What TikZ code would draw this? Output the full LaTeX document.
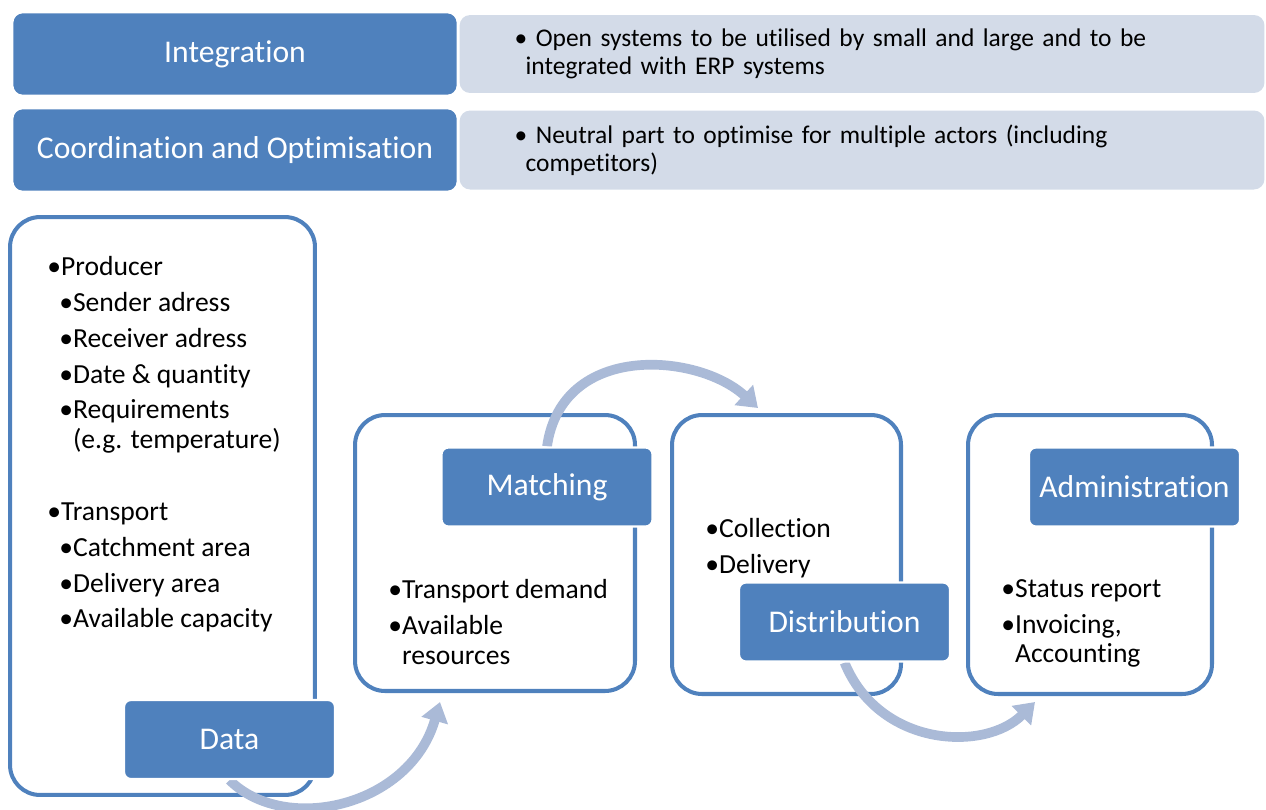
\documentclass[tikz,border=0pt]{standalone}
\usepackage{fontspec}
\setmainfont[Ligatures=NoCommon]{Carlito}
\usetikzlibrary{shapes,arrows.meta,positioning,calc}

\definecolor{accent}{RGB}{79,129,189}
\definecolor{accentpale}{RGB}{211,219,232}
\definecolor{flowblue}{RGB}{170,186,215}

\tikzstyle{head} = [rectangle, draw=white, line width=1.5pt, fill=accent,
  text=white, rounded corners=6pt, minimum width=8.92cm, minimum height=1.68cm,
  font=\fontsize{18}{21}\selectfont]
\tikzstyle{note} = [rectangle, fill=accentpale, rounded corners=6pt,
  minimum height=1.56cm, text width=13.9cm, inner xsep=1.1cm, align=left,
  font=\fontsize{14.5}{15.9}\selectfont]
\tikzstyle{stage} = [rectangle, draw=accent, line width=2.3pt, rounded corners=0.6cm]
\tikzstyle{block} = [rectangle, draw=white, line width=1.2pt, fill=accent,
  text=white, rounded corners=4pt, minimum width=4.22cm, minimum height=1.58cm,
  font=\fontsize{18}{21}\selectfont]
\tikzstyle{items} = [inner sep=0pt, align=left, anchor=north west,
  font=\fontsize{15.7}{17}\selectfont]
\tikzstyle{flow} = [draw=flowblue, line width=5.5pt,
  -{Triangle[width=15pt,length=11pt]}]

\pgfdeclarelayer{back}
\pgfdeclarelayer{arcs}
\pgfsetlayers{back,arcs,main}

\begin{document}
\begin{tikzpicture}[x=0.02cm, y=-0.02cm]
  \useasboundingbox (0,0) rectangle (1266,809);

  % two banners on top
  \node [head] (integ) at (235,54) {Integration};
  \node [note, right=0pt of integ] (integnote) {\textbullet\ Open systems to be utilised by small and large and to be\\
    \hspace*{0.22cm}integrated with ERP systems};
  \node [head] (coord) at (235,150) {Coordination and Optimisation};
  \node [note, right=0pt of coord, minimum height=1.58cm] (coordnote) {\textbullet\ Neutral part to optimise for multiple actors (including\\
    \hspace*{0.22cm}competitors)};

  % process steps
  \node [block] (data) at (229.5,739.5) {Data};
  \node [block] (matching) at (547,487) {Matching};
  \node [block] (distribution) at (844.5,622) {Distribution};
  \node [block] (admin) at (1134.5,487) {Administration};

  \node [items] (datatxt) at (47,256) {\textbullet Producer\\[3.4pt]
    \hspace*{0.24cm}\textbullet Sender adress\\[3.4pt]
    \hspace*{0.24cm}\textbullet Receiver adress\\[3.4pt]
    \hspace*{0.24cm}\textbullet Date \& quantity\\[3.4pt]
    \hspace*{0.24cm}\textbullet Requirements\\
    \hspace*{0.24cm}\phantom{\textbullet}(e.g. temperature)\\[23.8pt]
    \textbullet Transport\\[3.4pt]
    \hspace*{0.24cm}\textbullet Catchment area\\[3.4pt]
    \hspace*{0.24cm}\textbullet Delivery area\\[3.4pt]
    \hspace*{0.24cm}\textbullet Available capacity};
  \node [items] (matchtxt) at (388,579) {\textbullet Transport demand\\[3.4pt]
    \textbullet Available\\
    \phantom{\textbullet}resources};
  \node [items] (disttxt) at (705,518) {\textbullet Collection\\[3.4pt]
    \textbullet Delivery};
  \node [items] (admintxt) at (1001,579) {\textbullet Status report\\[3.4pt]
    \textbullet Invoicing,\\
    \phantom{\textbullet}Accounting};

  \begin{pgfonlayer}{back}
    \node [stage, minimum width=6.1cm, minimum height=11.56cm] (databox) at (162.5,506) {};
    \node [stage, minimum width=5.6cm, minimum height=5.52cm] (matchbox) at (495,553) {};
    \node [stage, minimum width=4.58cm, minimum height=5.58cm] (distbox) at (786.5,554.5) {};
    \node [stage, minimum width=4.88cm, minimum height=5.58cm] (adminbox) at (1090,554.5) {};
  \end{pgfonlayer}

  \begin{pgfonlayer}{arcs}
    \draw [flow] (data.south) .. controls +(55,55) and +(-30,105) .. ($(matchbox.south)+(-55,9)$);
    \draw [flow] (matching.north) .. controls +(15,-105) and +(-60,-55) .. ($(distbox.north)+(-28.5,-5)$);
    \draw [flow] (distribution.south) .. controls +(35,85) and +(-50,50) .. ($(adminbox.south)+(-55,6)$);
  \end{pgfonlayer}

\end{tikzpicture}
\end{document}
